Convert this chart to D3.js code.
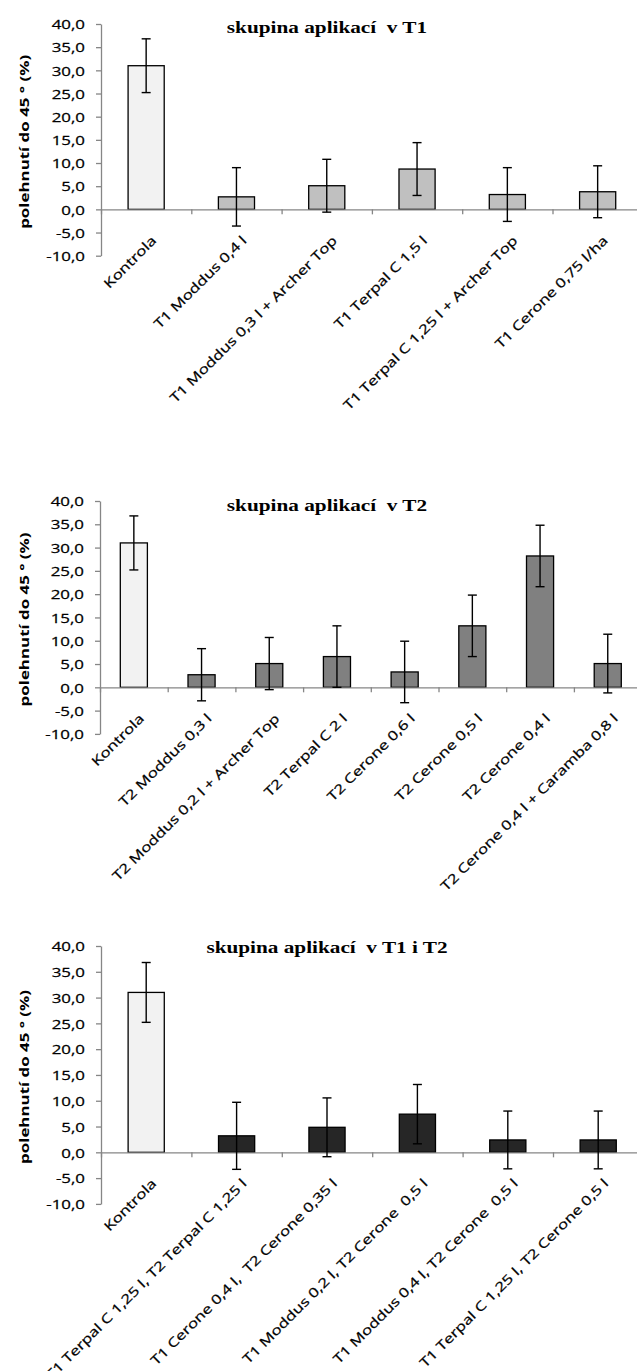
<!DOCTYPE html>
<html>
<head>
<meta charset="utf-8">
<script src="https://cdn.jsdelivr.net/npm/d3@7/dist/d3.min.js"></script>
<style>
  body { margin: 0; background: #fff; }
  text { white-space: pre; }
</style>
</head>
<body>
<div class="root"></div>
<script>
// --- data ---
var yTicks = [-10, -5, 0, 5, 10, 15, 20, 25, 30, 35, 40];
var yTitle = 'polehnutí do 45 ° (%)';

var titles = ['skupina aplikací  v T1', 'skupina aplikací  v T2', 'skupina aplikací  v T1 i T2'];

var cats1 = ['Kontrola', 'T1 Moddus 0,4 l', 'T1 Moddus 0,3 l + Archer Top', 'T1 Terpal C 1,5 l',
  'T1 Terpal C 1,25 l + Archer Top', 'T1 Cerone 0,75 l/ha'];
var vals1 = [31.0, 2.7, 5.1, 8.7, 3.2, 3.8];
var errs1 = [5.8, 6.3, 5.7, 5.7, 5.8, 5.6];

var cats2 = ['Kontrola', 'T2 Moddus 0,3 l', 'T2 Moddus 0,2 l + Archer Top', 'T2 Terpal C 2 l',
  'T2 Cerone 0,6 l', 'T2 Cerone 0,5 l', 'T2 Cerone 0,4 l', 'T2 Cerone 0,4 l + Caramba 0,8 l'];
var vals2 = [31.0, 2.7, 5.1, 6.6, 3.3, 13.2, 28.2, 5.1];
var errs2 = [5.8, 5.6, 5.6, 6.6, 6.6, 6.6, 6.6, 6.3];

var cats3 = ['Kontrola', 'T1 Terpal C 1,25 l, T2 Terpal C 1,25 l', 'T1 Cerone 0,4 l,  T2 Cerone 0,35 l',
  'T1 Moddus 0,2 l, T2 Cerone  0,5 l', 'T1 Moddus 0,4 l, T2 Cerone  0,5 l', 'T1 Terpal C 1,25 l, T2 Cerone 0,5 l'];
var vals3 = [31.0, 3.2, 4.85, 7.4, 2.4, 2.4];
var errs3 = [5.8, 6.5, 5.7, 5.75, 5.6, 5.6];

// --- look ---
var W = 637, H = 1371;
var sansFont = '"Open Sans", Lato, sans-serif';
var serifFont = '"Liberation Serif", "DejaVu Serif", serif';
var stretch = 1.3;       // text in the picture is wide along its direction
var titleStretch = 1.25;
var axisColor = '#868686';
var kontrolaFill = '#f2f2f2';

var panels = [
  {title: titles[0], cats: cats1, vals: vals1, errs: errs1, fill: '#c0c0c0',
   x0: 101, step: 90.3, yTop: 24, yBottom: 255.7, titleY: 33},
  {title: titles[1], cats: cats2, vals: vals2, errs: errs2, fill: '#808080',
   x0: 100, step: 67.7, yTop: 501, yBottom: 733.9, titleY: 511},
  {title: titles[2], cats: cats3, vals: vals3, errs: errs3, fill: '#262626',
   x0: 101, step: 90.4, yTop: 946, yBottom: 1203.9, titleY: 953}
];

function fmt(d) {
  return (d < 0 ? '-' : '') + Math.abs(d).toFixed(1).replace('.', ',');
}

function drawPanel(svg, p) {
  var n = p.cats.length;
  var x1 = p.x0 + n * p.step;

  var x = d3.scaleBand().domain(p.cats).range([p.x0, x1])
    .paddingInner(0.6).paddingOuter(0.3);
  var xb = d3.scaleLinear().domain([0, n]).range([p.x0, x1]);
  var y = d3.scaleLinear().domain([-10, 40]).range([p.yBottom, p.yTop]);

  var g = svg.append('g');

  // bars
  g.selectAll('rect.bar')
    .data(p.cats)
    .enter().append('rect')
      .attr('class', 'bar')
      .attr('x', function(d) { return x(d); })
      .attr('width', x.bandwidth())
      .attr('y', function(d, i) { return y(p.vals[i]); })
      .attr('height', function(d, i) { return y(0) - y(p.vals[i]); })
      .attr('fill', function(d, i) { return i === 0 ? kontrolaFill : p.fill; })
      .attr('stroke', '#000')
      .attr('stroke-width', 1.3);

  // y axis
  var ya = g.append('g')
    .attr('transform', 'translate(' + p.x0 + ',0)')
    .call(d3.axisLeft(y).tickValues(yTicks).tickSize(5).tickSizeOuter(0).tickFormat(fmt));
  ya.selectAll('path, line').attr('stroke', axisColor).attr('stroke-width', 1.3);
  ya.selectAll('text')
    .attr('x', -16 / stretch)
    .attr('dy', '0.36em')
    .attr('transform', 'scale(' + stretch + ',1)')
    .attr('font-family', sansFont)
    .attr('font-size', 13)
    .attr('fill', '#000')
    .attr('stroke', '#000')
    .attr('stroke-width', 0.25);

  // x axis at zero, ticks between categories
  var xa = g.append('g')
    .attr('transform', 'translate(0,' + y(0) + ')')
    .call(d3.axisBottom(xb).tickValues(d3.range(0, n + 1)).tickSize(5).tickSizeOuter(0).tickFormat(''));
  xa.selectAll('path, line').attr('stroke', axisColor).attr('stroke-width', 1.3);

  // category labels, rotated
  g.selectAll('text.cat')
    .data(p.cats)
    .enter().append('text')
      .attr('class', 'cat')
      .attr('transform', function(d) {
        var cx = x(d) + x.bandwidth() / 2 + 11;
        var cy = y(0) + 32;
        return 'translate(' + cx + ',' + cy + ') rotate(-45) scale(' + stretch + ',1)';
      })
      .attr('text-anchor', 'end')
      .attr('font-family', sansFont)
      .attr('font-size', 13)
      .attr('stroke', '#000')
      .attr('stroke-width', 0.25)
      .text(function(d) { return d; });

  // error bars
  var eb = g.selectAll('g.err')
    .data(p.cats)
    .enter().append('g')
      .attr('class', 'err')
      .attr('stroke', '#000')
      .attr('stroke-width', 1.4);
  eb.append('line')
    .attr('x1', function(d) { return x(d) + x.bandwidth() / 2; })
    .attr('x2', function(d) { return x(d) + x.bandwidth() / 2; })
    .attr('y1', function(d, i) { return y(p.vals[i] + p.errs[i]); })
    .attr('y2', function(d, i) { return y(p.vals[i] - p.errs[i]); });
  [1, -1].forEach(function(s) {
    eb.append('line')
      .attr('x1', function(d) { return x(d) + x.bandwidth() / 2 - 4.5; })
      .attr('x2', function(d) { return x(d) + x.bandwidth() / 2 + 4.5; })
      .attr('y1', function(d, i) { return y(p.vals[i] + s * p.errs[i]); })
      .attr('y2', function(d, i) { return y(p.vals[i] + s * p.errs[i]); });
  });

  // y title
  var midY = (y(40) + y(-10)) / 2;
  g.append('text')
    .attr('transform', 'translate(29,' + (midY + 2) + ') rotate(-90) scale(' + stretch + ',1)')
    .attr('text-anchor', 'middle')
    .attr('font-family', sansFont)
    .attr('font-weight', 'bold')
    .attr('font-size', 13)
    .text(yTitle);

  // chart title
  g.append('text')
    .attr('transform', 'translate(327,' + p.titleY + ') scale(' + titleStretch + ',1)')
    .attr('text-anchor', 'middle')
    .attr('font-family', serifFont)
    .attr('font-weight', 'bold')
    .attr('font-size', 17)
    .text(p.title);
}

var svg = d3.select('.root').append('svg')
  .attr('width', W)
  .attr('height', H);

panels.forEach(function(p) { drawPanel(svg, p); });
</script>
</body>
</html>
